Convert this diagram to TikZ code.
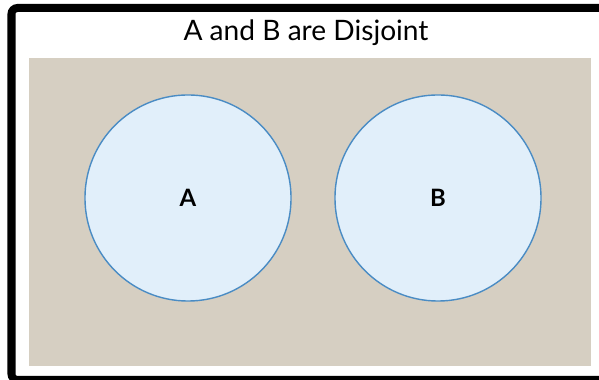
\documentclass[tikz,border=0pt]{standalone}
\usepackage{fontspec}
\setmainfont{Lato}
\usepackage{tikz}
\definecolor{univbeige}{HTML}{D6CFC2}
\definecolor{setfill}{HTML}{E1EFFA}
\definecolor{setline}{HTML}{4A8CC4}
\tikzset{
  frameline/.style={draw=black,line width=0.2cm,rounded corners=0.15cm},
  univbox/.style={fill=univbeige,draw=none},
  setnode/.style={circle,draw=setline,line width=1pt,fill=setfill,minimum size=5.15cm,inner sep=0pt,font=\fontsize{17}{20}\selectfont\bfseries},
  titlenode/.style={font=\fontsize{20}{24}\selectfont},
}
\begin{document}
\begin{tikzpicture}[x=0.025cm,y=0.025cm]
  \useasboundingbox (0,0) rectangle (599,380);
  \clip (0,0) rectangle (599,380);
  \fill[white] (0,0) rectangle (599,380);
  \draw[frameline] (11.5,0) rectangle (610,372);
  \fill[univbox] (29,14) rectangle (591,322);
  \node[titlenode] (ntitle) at (306,347) {A and B are Disjoint};
  \node[setnode] (nA) at (188,182) {A};
  \node[setnode] (nB) at (438,182) {B};
\end{tikzpicture}
\end{document}
